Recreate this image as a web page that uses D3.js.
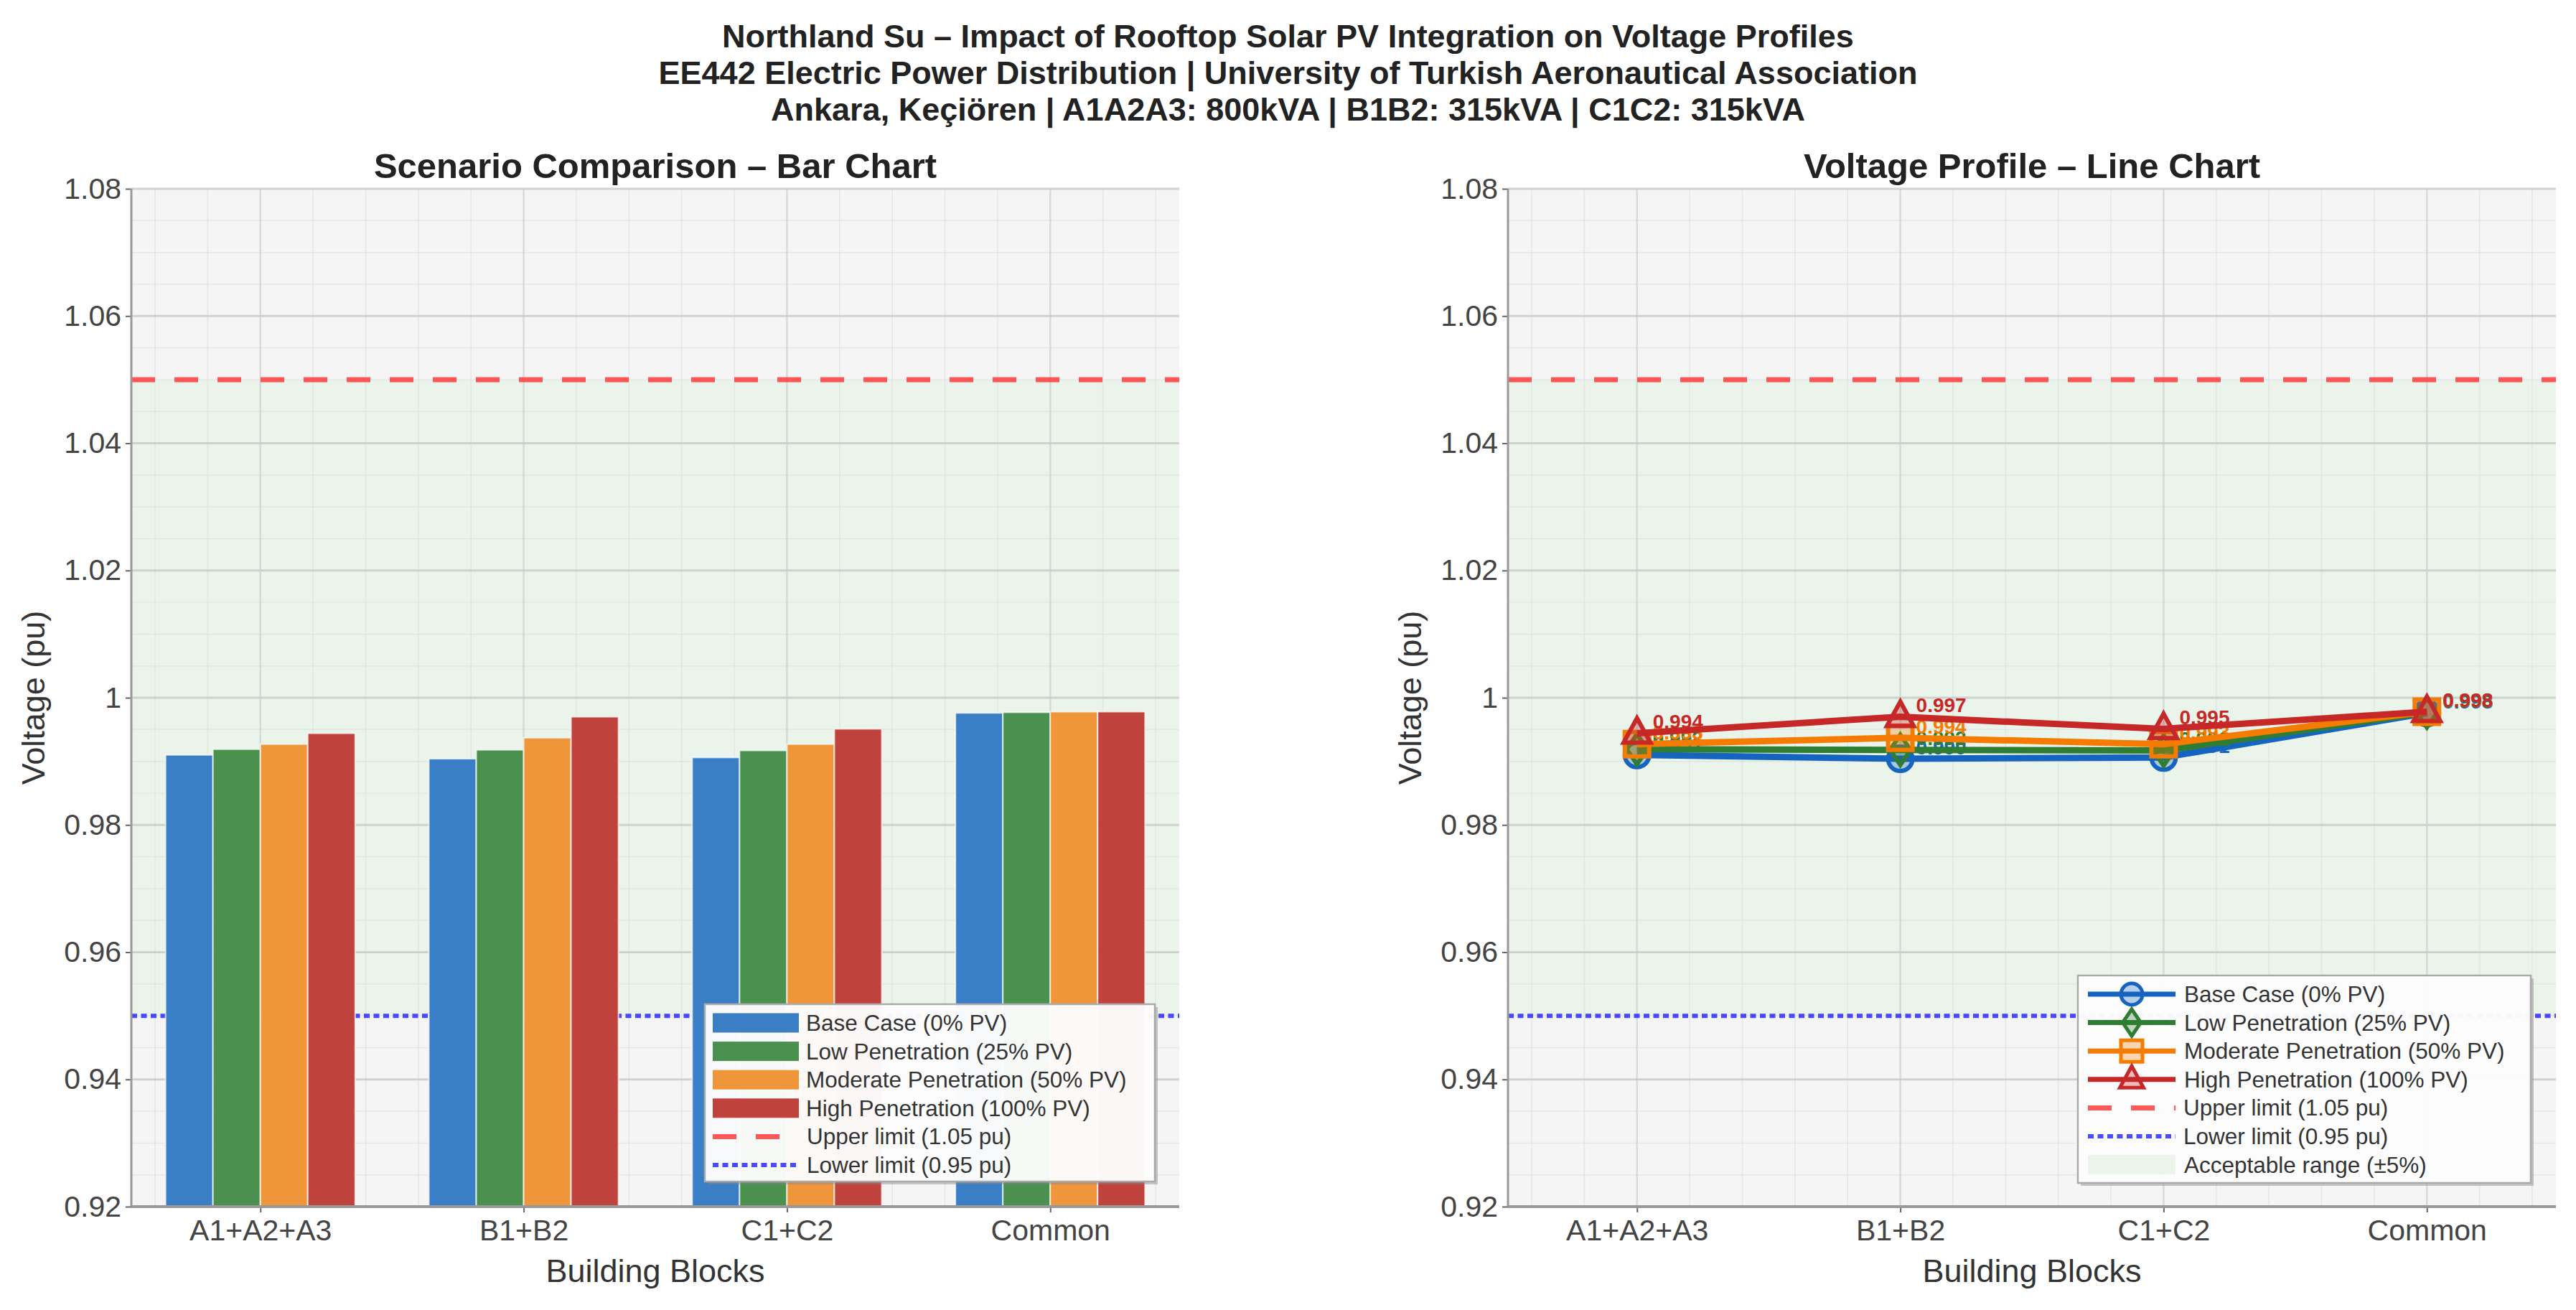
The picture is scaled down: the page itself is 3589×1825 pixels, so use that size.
<!DOCTYPE html>
<html>
<head>
<meta charset="utf-8">
<script src="https://cdn.jsdelivr.net/npm/d3@7"></script>
<style>
  body { margin: 0; background: #fff; }
  text { font-family: "Liberation Sans", Arial, sans-serif; }
</style>
</head>
<body>
<div id="chart"></div>
<script>
// data
const blocks = ['A1+A2+A3', 'B1+B2', 'C1+C2', 'Common'];
const scenarios = ['Base Case (0% PV)', 'Low Penetration (25% PV)', 'Moderate Penetration (50% PV)', 'High Penetration (100% PV)'];
const baseCase = [0.9910, 0.9904, 0.9906, 0.9976];
const lowPen = [0.9919, 0.9918, 0.9917, 0.9977];
const modPen = [0.9927, 0.9937, 0.9927, 0.9978];
const highPen = [0.9944, 0.9970, 0.9951, 0.9978];
const yTicks = [0.92, 0.94, 0.96, 0.98, 1.00, 1.02, 1.04, 1.06, 1.08];
const upperLimit = 1.05;
const lowerLimit = 0.95;
const titleLines = [
  'Northland Su \u2013 Impact of Rooftop Solar PV Integration on Voltage Profiles',
  'EE442 Electric Power Distribution | University of Turkish Aeronautical Association',
  'Ankara, Ke\u00e7i\u00f6ren | A1A2A3: 800kVA | B1B2: 315kVA | C1C2: 315kVA'
];

const series = [baseCase, lowPen, modPen, highPen];
const barColors = ['#3a7ec6', '#4a9150', '#f0963a', '#c0423d'];
const lineColors = ['#1565c0', '#2e7d32', '#f57c00', '#c62828'];
const markers = ['circle', 'diamond', 'square', 'triangle'];

let width = 3589, height = 1825;
let panelW = 1460, panelH = 1418;

let svg = d3.select('#chart').append('svg')
  .attr('width', width)
  .attr('height', height);

svg.append('rect').attr('width', width).attr('height', height).attr('fill', '#fff');

// figure title
svg.append('g').selectAll('text')
  .data(titleLines)
  .enter().append('text')
  .attr('x', width / 2)
  .attr('y', (d, i) => 50 + i * 51)
  .attr('dy', '0.35em')
  .attr('text-anchor', 'middle')
  .style('font-size', '45px')
  .style('font-weight', 'bold')
  .attr('fill', '#222')
  .text(d => d);

let y = d3.scaleLinear().domain([0.92, 1.08]).range([panelH, 0]);
let x = d3.scaleLinear().domain([-0.49, 3.49]).range([0, panelW]);
let fmt = v => String(+v.toFixed(2));

function drawPanel(left, title) {
  let g = svg.append('g').attr('transform', `translate(${left},263)`);

  g.append('rect').attr('width', panelW).attr('height', panelH).attr('fill', '#f5f5f5');
  // acceptable band
  g.append('rect')
    .attr('y', y(upperLimit))
    .attr('width', panelW)
    .attr('height', y(lowerLimit) - y(upperLimit))
    .attr('fill', '#eaf4ea');

  // minor grid
  let yMinor = d3.range(0.92, 1.0801, 0.005).filter(v => Math.abs(Math.round(v / 0.02) * 0.02 - v) > 1e-6);
  let xMinor = d3.range(-0.4, 3.49, 0.2).filter(v => Math.abs(Math.round(v) - v) > 1e-6);
  g.append('g').selectAll('line').data(yMinor).enter().append('line')
    .attr('x1', 0).attr('x2', panelW).attr('y1', d => y(d)).attr('y2', d => y(d))
    .attr('stroke', '#dcdcdc').attr('stroke-width', 1.5).attr('stroke-opacity', 0.6);
  g.append('g').selectAll('line').data(xMinor).enter().append('line')
    .attr('y1', 0).attr('y2', panelH).attr('x1', d => x(d)).attr('x2', d => x(d))
    .attr('stroke', '#dcdcdc').attr('stroke-width', 1.5).attr('stroke-opacity', 0.6);

  // major grid
  g.append('g').selectAll('line').data(yTicks).enter().append('line')
    .attr('x1', 0).attr('x2', panelW).attr('y1', d => y(d)).attr('y2', d => y(d))
    .attr('stroke', '#c8c8c8').attr('stroke-width', 3).attr('stroke-opacity', 0.8);
  g.append('g').selectAll('line').data(d3.range(blocks.length)).enter().append('line')
    .attr('y1', 0).attr('y2', panelH).attr('x1', d => x(d)).attr('x2', d => x(d))
    .attr('stroke', '#c8c8c8').attr('stroke-width', 2.5).attr('stroke-opacity', 0.6);

  // limits
  g.append('line')
    .attr('x1', 0).attr('x2', panelW).attr('y1', y(upperLimit)).attr('y2', y(upperLimit))
    .attr('stroke', '#ff3b3b').attr('stroke-width', 7).attr('stroke-dasharray', '33,27').attr('stroke-opacity', 0.85);
  g.append('line')
    .attr('x1', 0).attr('x2', panelW).attr('y1', y(lowerLimit)).attr('y2', y(lowerLimit))
    .attr('stroke', '#2b2bff').attr('stroke-width', 6).attr('stroke-dasharray', '8,5.5').attr('stroke-opacity', 0.85);

  // axes
  let yAxis = g.append('g').call(d3.axisLeft(y).tickValues(yTicks).tickFormat(fmt).tickSize(8).tickPadding(6));
  let xAxis = g.append('g').attr('transform', `translate(0,${panelH})`)
    .call(d3.axisBottom(x).tickValues(d3.range(blocks.length)).tickFormat(i => blocks[i]).tickSize(8).tickPadding(10));
  [yAxis, xAxis].forEach(a => {
    a.select('.domain').remove();
    a.selectAll('.tick line').attr('stroke', '#666').attr('stroke-width', 2);
    a.selectAll('.tick text').attr('fill', '#444').style('font-size', '41px').style('font-family', '"Liberation Sans", Arial, sans-serif');
  });

  g.append('text')
    .attr('transform', `translate(-137,${panelH / 2}) rotate(-90)`)
    .attr('dy', '0.35em')
    .attr('text-anchor', 'middle')
    .style('font-size', '45px')
    .attr('fill', '#333')
    .text('Voltage (pu)');
  g.append('text')
    .attr('x', panelW / 2).attr('y', panelH + 89)
    .attr('dy', '0.35em')
    .attr('text-anchor', 'middle')
    .style('font-size', '45px')
    .attr('fill', '#333')
    .text('Building Blocks');
  g.append('text')
    .attr('x', panelW / 2).attr('y', -32)
    .attr('dy', '0.35em')
    .attr('text-anchor', 'middle')
    .style('font-size', '49px')
    .style('font-weight', 'bold')
    .attr('fill', '#222')
    .text(title);

  return g;
}

function drawSpines(g) {
  g.append('line').attr('x1', 0).attr('x2', 0).attr('y1', 0).attr('y2', panelH)
    .attr('stroke', '#999').attr('stroke-width', 3);
  g.append('line').attr('x1', 0).attr('x2', panelW).attr('y1', panelH).attr('y2', panelH)
    .attr('stroke', '#999').attr('stroke-width', 4);
}

function markerPath(type, size) {
  let s = size;
  if (type === 'circle') return d3.symbol(d3.symbolCircle, s * s * Math.PI / 4)();
  if (type === 'square') return `M${-s / 2},${-s / 2}h${s}v${s}h${-s}Z`;
  if (type === 'diamond') return `M0,${-s * 0.62}L${s * 0.42},0L0,${s * 0.62}L${-s * 0.42},0Z`;
  return `M0,${-s * 0.62}L${s * 0.55},${s * 0.38}L${-s * 0.55},${s * 0.38}Z`;
}

function drawLegend(g, bx, by, bw, bh, rows) {
  let lg = g.append('g').attr('transform', `translate(${bx},${by})`);
  lg.append('rect').attr('x', 4).attr('y', 4).attr('width', bw).attr('height', bh).attr('fill', '#888').attr('opacity', 0.45);
  lg.append('rect').attr('width', bw).attr('height', bh).attr('fill', '#fff').attr('fill-opacity', 0.95)
    .attr('stroke', '#aaa').attr('stroke-width', 2.5);
  rows.forEach((r, i) => {
    let cy = 26 + i * 39.6;
    let row = lg.append('g').attr('transform', `translate(0,${cy})`);
    r.handle(row);
    row.append('text')
      .attr('x', r.textX).attr('dy', '0.35em')
      .style('font-size', '31.5px')
      .attr('fill', '#333')
      .text(r.label);
  });
}

function limitHandles(x0, x1) {
  return [
    { label: 'Upper limit (1.05 pu)', textX: x1 + 11, handle: row => row.append('line')
      .attr('x1', x0).attr('x2', x1).attr('stroke', '#ff3b3b').attr('stroke-width', 7)
      .attr('stroke-dasharray', '33,27').attr('stroke-opacity', 0.85) },
    { label: 'Lower limit (0.95 pu)', textX: x1 + 11, handle: row => row.append('line')
      .attr('x1', x0).attr('x2', x1).attr('stroke', '#2b2bff').attr('stroke-width', 6)
      .attr('stroke-dasharray', '8,5.5').attr('stroke-opacity', 0.85) }
  ];
}

// ---------- bar chart ----------
let barPanel = drawPanel(183, 'Scenario Comparison \u2013 Bar Chart');
let barW = 0.18;
series.forEach((vals, si) => {
  barPanel.append('g').selectAll('rect')
    .data(vals)
    .enter().append('rect')
    .attr('x', (d, i) => x(i + (si - 1.5) * barW - barW / 2))
    .attr('width', x(barW) - x(0))
    .attr('y', d => y(d))
    .attr('height', d => panelH - y(d))
    .attr('fill', barColors[si])
    .attr('stroke', '#fff')
    .attr('stroke-width', 2)
    .attr('stroke-opacity', 0.7);
});
drawSpines(barPanel);

let barRows = scenarios.map((s, si) => ({
  label: s, textX: 141,
  handle: row => row.append('rect').attr('x', 11).attr('y', -13.5).attr('width', 120).attr('height', 27).attr('fill', barColors[si])
}));
drawLegend(barPanel, 799, 1136, 627, 247, barRows.concat(limitHandles(11, 131)));

// ---------- line chart ----------
let linePanel = drawPanel(2101, 'Voltage Profile \u2013 Line Chart');
let line = d3.line().x((d, i) => x(i)).y(d => y(d));
series.forEach((vals, si) => {
  let sg = linePanel.append('g');
  sg.append('path')
    .datum(vals)
    .attr('d', line)
    .attr('fill', 'none')
    .attr('stroke', lineColors[si])
    .attr('stroke-width', 9)
    .attr('stroke-linejoin', 'round');
  sg.selectAll('path.mk')
    .data(vals)
    .enter().append('path')
    .attr('class', 'mk')
    .attr('transform', (d, i) => `translate(${x(i)},${y(d)})`)
    .attr('d', markerPath(markers[si], 34))
    .attr('fill', lineColors[si])
    .attr('fill-opacity', 0.3)
    .attr('stroke', lineColors[si])
    .attr('stroke-width', 6);
  sg.selectAll('text')
    .data(vals)
    .enter().append('text')
    .attr('x', (d, i) => x(i) + 22)
    .attr('y', d => y(d) - 16)
    .attr('dy', '0.35em')
    .style('font-size', '28px')
    .style('font-weight', 'bold')
    .attr('fill', lineColors[si])
    .text(d => d.toFixed(3));
});
drawSpines(linePanel);

let lineRows = scenarios.map((s, si) => ({
  label: s, textX: 148,
  handle: row => {
    row.append('line').attr('x1', 14).attr('x2', 136).attr('stroke', lineColors[si]).attr('stroke-width', 7);
    row.append('path').attr('transform', 'translate(75,0)').attr('d', markerPath(markers[si], 30))
      .attr('fill', lineColors[si]).attr('fill-opacity', 0.3)
      .attr('stroke', lineColors[si]).attr('stroke-width', 5);
  }
}));
lineRows = lineRows.concat(limitHandles(14, 136));
lineRows.push({
  label: 'Acceptable range (\u00b15%)', textX: 148,
  handle: row => row.append('rect').attr('x', 14).attr('y', -13.5).attr('width', 122).attr('height', 27).attr('fill', '#eaf4ea')
});
drawLegend(linePanel, 794, 1096, 631, 289, lineRows);
</script>
</body>
</html>
